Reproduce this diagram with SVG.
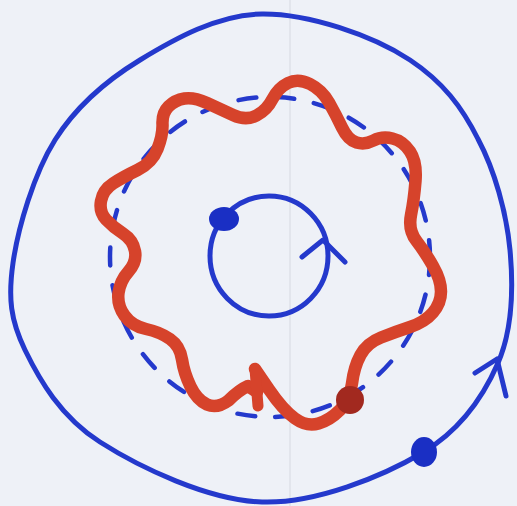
<svg xmlns="http://www.w3.org/2000/svg" width="517" height="506" viewBox="0 0 517 506">
  <style>
    .blue { fill: none; stroke: #2439cc; stroke-linecap: round; stroke-linejoin: round; }
    .bluefill { fill: #1a2fc4; }
    .red { fill: none; stroke: #d6432b; stroke-linecap: round; stroke-linejoin: round; }
  </style>
  <rect width="517" height="506" fill="#eef1f7"/>
  <line x1="290" y1="0" x2="290" y2="506" stroke="#e2e5ec" stroke-width="2"/>

  <g id="outer-orbit">
    <path class="blue" stroke-width="5" d="M262,14 C308,13.5 372,35 410,60 C443,82 462,107 478,139 C494.5,170 506.5,212.3 510,250 C513.5,287.7 512.7,329.2 498,363 C483.3,396.8 461.3,429.8 422,453 C382.7,476.2 315.7,503.8 262,502 C208.3,500.2 139.5,467.3 100,442 C60.5,416.7 39.5,379.8 25,350 C10.5,320.2 8,298 13,263 C18,228 33.8,173.8 55,140 C76.2,106.2 105.5,81 140,60 C174.5,39 217.8,14.5 262,14 Z"/>
    <polyline class="blue" stroke-width="5" points="475,373 497,359 506,396"/>
    <ellipse class="bluefill" cx="424" cy="452" rx="13" ry="15"/>
  </g>

  <g id="dashed-orbit">
    <circle class="blue" stroke-width="4.5" stroke-dasharray="18 20" cx="270" cy="257" r="160"/>
  </g>

  <g id="inner-orbit">
    <ellipse class="blue" stroke-width="5" cx="269" cy="256" rx="59" ry="60"/>
    <polyline class="blue" stroke-width="5" points="302,257 323,240 345,262"/>
    <ellipse class="bluefill" cx="224" cy="219" rx="15" ry="12"/>
  </g>

  <g id="wavy-orbit">
    <path class="red" stroke-width="12.5" d="M257,392 L248,386 Q239,390 228.5,400.5 Q217,409 207,404.5 Q197,400 190.5,386.5 Q184,373 182,359.5 Q180,346 170,339 Q160,332 146,329 Q132,326 124.5,315.5 Q117,305 118.5,293 Q120,281 128.5,271.5 Q137,262 135,251 Q133,240 123,233.5 Q113,227 106,219.5 Q99,212 101,201 Q103,190 113,183.5 Q123,177 137.5,170 Q152,163 157.5,149 Q163,135 162.5,124 Q162,113 168.5,106.5 Q175,100 184.5,98.5 Q194,97 207,103 Q220,109 233,115 Q246,121 256.5,115.5 Q267,110 272.5,99 Q278,88 288,83 Q298,78 310,84 Q322,90 329,102.5 Q336,115 342,127.5 Q348,140 356.5,142.5 Q365,145 373.5,140.5 Q382,136 392.5,138.5 Q403,141 410,151.5 Q417,162 415.5,181 Q414,200 411,215 Q408,230 416.5,241 Q425,252 433,266 Q441,280 441,291.5 Q441,303 433,312.5 Q425,322 410,327 Q395,332 381,337.5 Q367,343 360.5,355 Q354,367 352,383.5 Q350,400 340,410 Q330,420 318.5,423.5 Q307,427 295,418.5 Q283,410 269,389.5 L255,369"/>
    <line class="red" stroke-width="11" x1="255" y1="369" x2="258" y2="406"/>
    <circle cx="350" cy="400" r="14" fill="#a2291f"/>
  </g>
</svg>
